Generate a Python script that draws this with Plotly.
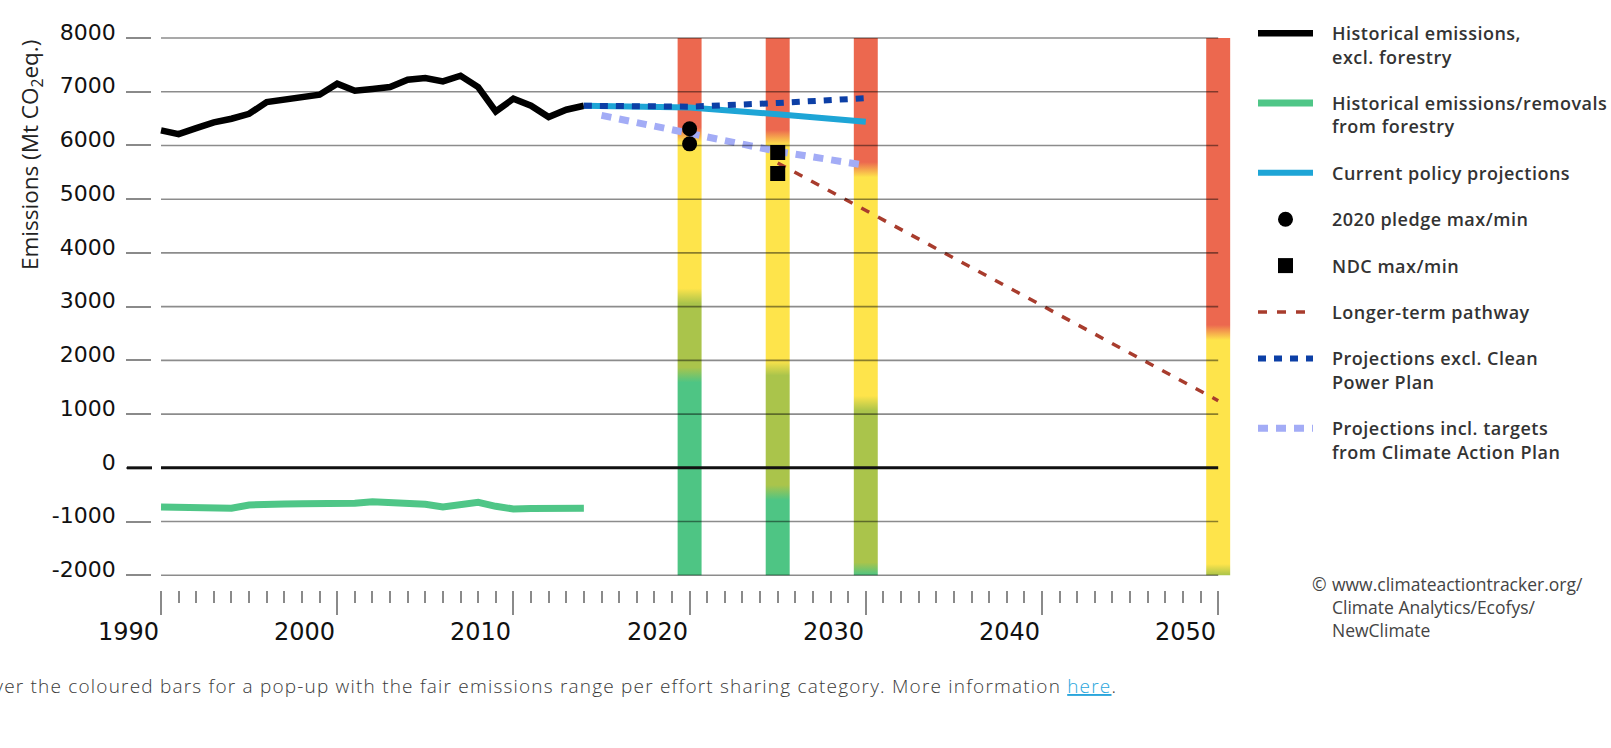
import plotly.graph_objects as go

W, H = 1611, 748

# ---------------- data ----------------
hist_years = list(range(1990, 2015))
hist_excl_forestry = [6280, 6211, 6323, 6429, 6497, 6590, 6807, 6851, 6894, 6944,
                      7149, 7019, 7050, 7087, 7224, 7255, 7193, 7298, 7087, 6634,
                      6870, 6739, 6528, 6665, 6739]
forestry = [-728, -728, -740, -740, -753, -691, -667, -673, -667, -667,
            -667, -660, -630, -642, -654, -679, -728, -679, -642, -716,
            -765, -759, -747, -753, -753]

cpp_years = [2014, 2015, 2020, 2025, 2030]
current_policy = [6739, 6735, 6705, 6580, 6440]

excl_cpp_years = [2014, 2015, 2020, 2025, 2030]
proj_excl_cpp = [6739, 6740, 6722, 6790, 6880]

incl_cap_years = [2015, 2020, 2025, 2030]
proj_incl_cap = [6560, 6240, 5890, 5630]

pledge_years = [2020, 2020]
pledge_2020 = [6310, 6030]

ndc_years = [2025, 2025]
ndc = [5870, 5480]

pathway_years = [2025, 2050]
pathway = [5675, 1250]

# effort-sharing bars: band boundaries (Mt CO2e)
bar_years = [2020, 2025, 2030, 2050]
bar_bottom = -2000
bar_top = 8000
green_olive = [1730, -460, -1900, None]
olive_yellow = [3200, 1860, 1200, -1930]
yellow_red = [6200, 6150, 5550, 2520]

y_ticks = [-2000, -1000, 0, 1000, 2000, 3000, 4000, 5000, 6000, 7000, 8000]
y_ticktext = ["-2000", "-1000", "0", "1000", "2000", "3000", "4000", "5000", "6000", "7000", "8000"]
x_label_years = [1990, 2000, 2010, 2020, 2030, 2040, 2050]

# ---------------- styling ----------------
GREEN, OLIVE, YELLOW, RED = "#4ec584", "#aac44b", "#fee44b", "#ec684f"
BAR_HALF = 0.68
TRANS = 140

X0, X1 = 1989.5, 2050.75
Y0, Y1 = -2050, 8050
px_left, px_right = 152.2, 1231.4
px_bottom, px_top = 577.99, 35.31
NB = "\u00a0\u00a0\u00a0"


def gradient_stops(bounds, colors, lo, hi, half):
    span = hi - lo
    stops = [[0.0, colors[0]]]
    for b, c_below, c_above in zip(bounds, colors[:-1], colors[1:]):
        a = max(0.0, (b - half - lo) / span)
        z = min(1.0, (b + half - lo) / span)
        if a > stops[-1][0]:
            stops.append([a, c_below])
        stops.append([max(z, stops[-1][0]), c_above])
    if stops[-1][0] < 1:
        stops.append([1.0, colors[-1]])
    return stops


def lg(text):
    return "<br>".join(NB + "<span style='letter-spacing:0.5px'>" + part + "</span>"
                       for part in text.split("<br>"))


fig = go.Figure()

for yr, go_b, oy_b, yr_b in zip(bar_years, green_olive, olive_yellow, yellow_red):
    if go_b is None:
        cols, bnds = [OLIVE, YELLOW, RED], [oy_b, yr_b]
    else:
        cols, bnds = [GREEN, OLIVE, YELLOW, RED], [go_b, oy_b, yr_b]
    fig.add_trace(go.Scatter(
        x=[yr - BAR_HALF, yr + BAR_HALF, yr + BAR_HALF, yr - BAR_HALF, yr - BAR_HALF],
        y=[bar_bottom, bar_bottom, bar_top, bar_top, bar_bottom],
        mode="lines", line=dict(width=0), fill="toself",
        fillgradient=dict(type="vertical", start=bar_bottom, stop=bar_top,
                          colorscale=gradient_stops(bnds, cols, bar_bottom, bar_top, TRANS)),
        showlegend=False, hoverinfo="skip"))

fig.add_trace(go.Scatter(x=hist_years, y=forestry, mode="lines",
                         name=lg("Historical emissions/removals<br>from forestry"),
                         line=dict(color="#4fc687", width=7), legendgroup="g2", legendrank=2))
fig.add_trace(go.Scatter(x=hist_years, y=hist_excl_forestry, mode="lines",
                         name=lg("Historical emissions,<br>excl. forestry"),
                         line=dict(color="#000000", width=6.5), legendgroup="g1", legendrank=1))
fig.add_trace(go.Scatter(x=cpp_years, y=current_policy, mode="lines",
                         name=lg("Current policy projections"),
                         line=dict(color="#1ea5d6", width=6), legendgroup="g3", legendrank=3))
fig.add_trace(go.Scatter(x=excl_cpp_years, y=proj_excl_cpp, mode="lines",
                         name=lg("Projections excl. Clean<br>Power Plan"),
                         line=dict(color="#0c3fa6", width=6, dash="8px,8px"),
                         legendgroup="g7", legendrank=7))
fig.add_trace(go.Scatter(x=incl_cap_years, y=proj_incl_cap, mode="lines",
                         name=lg("Projections incl. targets<br>from Climate Action Plan"),
                         line=dict(color="#a3acf6", width=7, dash="10px,8px"),
                         legendgroup="g8", legendrank=8))
fig.add_trace(go.Scatter(x=pathway_years, y=pathway, mode="lines",
                         name=lg("Longer-term pathway"),
                         line=dict(color="#a83c2d", width=3.5, dash="9px,10px"),
                         legendgroup="g6", legendrank=6))
fig.add_trace(go.Scatter(x=pledge_years, y=pledge_2020, mode="markers",
                         name=lg("2020 pledge max/min"),
                         marker=dict(color="#000000", size=15, symbol="circle"),
                         legendgroup="g4", legendrank=4))
fig.add_trace(go.Scatter(x=ndc_years, y=ndc, mode="markers",
                         name=lg("NDC max/min"),
                         marker=dict(color="#000000", size=15, symbol="square"),
                         legendgroup="g5", legendrank=5))

# grid lines drawn over the bars, ending at 2050
for v in y_ticks:
    if v == 0:
        continue
    fig.add_shape(type="line", xref="x", yref="y", x0=1990, x1=2050, y0=v, y1=v,
                  line=dict(color="rgba(0,0,0,0.45)", width=1.6), layer="above")
fig.add_shape(type="line", xref="x", yref="y", x0=1990, x1=2050, y0=0, y1=0,
              line=dict(color="#111111", width=3), layer="above")
fig.add_shape(type="line", xref="paper", yref="y", x0=127 / W, x1=152 / W, y0=0, y1=0,
              line=dict(color="#111111", width=3), layer="above")

annotations = []
for yr in x_label_years:
    annotations.append(dict(x=yr, xref="x", y=1 - 616 / H, yref="paper",
                            text=str(yr), showarrow=False, xanchor="right", yanchor="top",
                            font=dict(family="DejaVu Sans", size=24, color="#111111")))
annotations.append(dict(x=31 / W, y=1 - 155 / H, xref="paper", yref="paper",
                        xanchor="center", yanchor="middle",
                        text="Emissions (Mt CO<sub>2</sub>eq.)", textangle=-90, showarrow=False,
                        font=dict(family="Open Sans", size=22.5, color="#222222")))
annotations.append(dict(x=1310 / W, y=1 - 570 / H, xref="paper", yref="paper", text="©",
                        showarrow=False, xanchor="left", yanchor="top",
                        font=dict(family="Open Sans", size=17.5, color="#444444")))
annotations.append(dict(x=1330 / W, y=1 - 570 / H, xref="paper", yref="paper",
                        text="www.climateactiontracker.org/<br>Climate Analytics/Ecofys/<br>NewClimate",
                        showarrow=False, xanchor="left", yanchor="top", align="left",
                        font=dict(family="Open Sans", size=17.5, color="#444444")))
annotations.append(dict(x=1119 / W, y=1 - 686 / H, xref="paper", yref="paper",
                        text="<span style='letter-spacing:1.2px'>Hover the coloured bars for a pop-up with the fair emissions range per effort sharing category. More information "
                             "<span style='color:#2aa6dc;text-decoration:underline'>here</span>.</span>",
                        showarrow=False, xanchor="right", yanchor="middle",
                        font=dict(family="Open Sans", size=19, color="#3a3a3a", weight=300)))

fig.update_layout(
    width=W, height=H, margin=dict(l=0, r=0, t=0, b=0, autoexpand=False),
    paper_bgcolor="white", plot_bgcolor="white",
    showlegend=True,
    legend=dict(x=1253 / W, y=1 - 15 / H, xanchor="left", yanchor="top",
                font=dict(family="Open Sans", size=18, color="#333333", weight=600),
                tracegroupgap=20, itemwidth=55, valign="top", bgcolor="rgba(0,0,0,0)",
                traceorder="grouped"),
    xaxis=dict(range=[X0, X1], domain=[px_left / W, px_right / W], anchor="free",
               position=1 - 590 / H, showgrid=False, zeroline=False, showline=False,
               automargin=False,
               tick0=1990, dtick=10, ticks="outside", ticklen=24, tickwidth=1.6,
               tickcolor="#8a8a8a", showticklabels=False,
               minor=dict(dtick=1, tick0=1990, ticks="outside", ticklen=12, tickwidth=1.6,
                          tickcolor="#8a8a8a")),
    yaxis=dict(range=[Y0, Y1], domain=[1 - px_bottom / H, 1 - px_top / H],
               showgrid=False, zeroline=False, showline=False, automargin=False,
               tickmode="array", tickvals=y_ticks, ticktext=y_ticktext,
               ticks="outside", ticklen=25, tickwidth=1.6, tickcolor="#8a8a8a",
               ticklabelstandoff=6, ticklabelshift=-6,
               tickfont=dict(family="DejaVu Sans", size=22, color="#111111")),
    annotations=annotations,
)

fig.write_html("out.html", config={"displayModeBar": False},
               post_script="document.body.style.margin='0';document.body.style.overflow='hidden';")
